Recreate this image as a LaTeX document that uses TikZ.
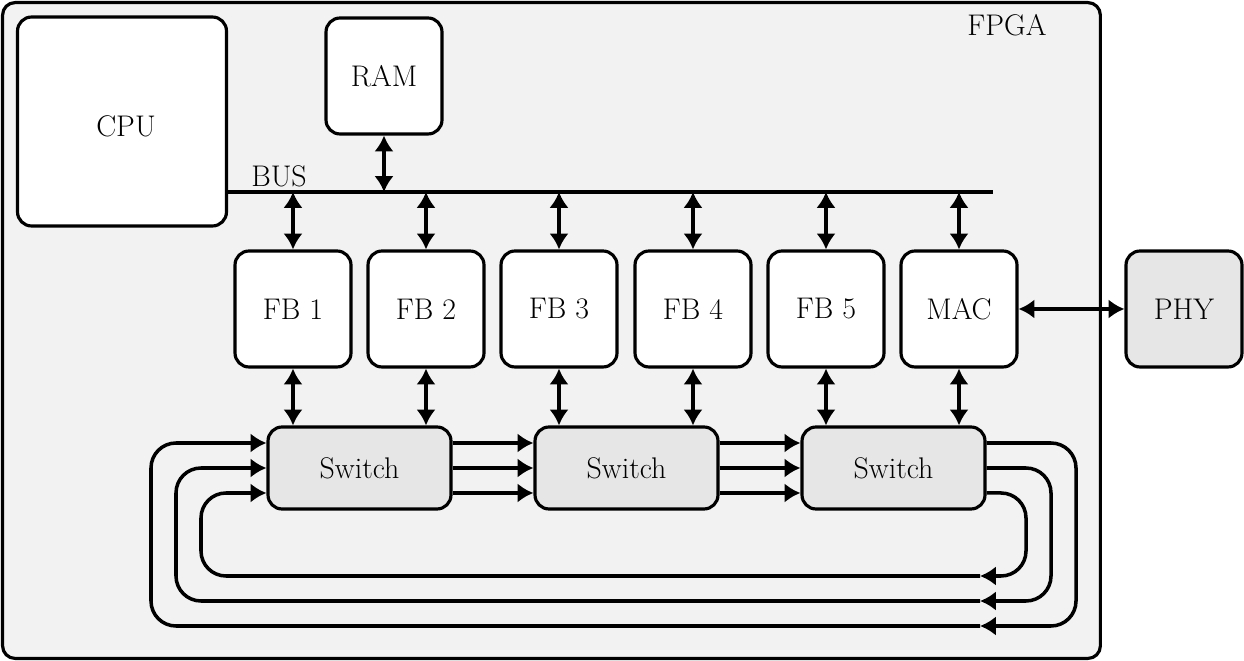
\documentclass[tikz,border=0pt]{standalone}
\usetikzlibrary{arrows.meta}
\definecolor{fpgabg}{HTML}{F2F2F2}
\definecolor{swfill}{HTML}{E6E6E6}
\begin{document}
\begin{tikzpicture}[x=0.02cm,y=-0.02cm,
  font=\fontsize{17pt}{20pt}\selectfont,
  >={Latex[length=9pt,width=11pt]},
  box/.style={draw, line width=1.8pt, rounded corners=0.28cm, fill=white,
    minimum width=2.32cm, minimum height=2.32cm, inner sep=0pt},
  sw/.style={box, fill=swfill, minimum width=3.66cm, minimum height=1.64cm},
  conn/.style={line width=2pt, <->},
  fwd/.style={line width=2pt, ->},
  loopline/.style={line width=2pt, rounded corners=0.5cm}]
\useasboundingbox (0,0) rectangle (1244,661);
% FPGA
\node[draw, line width=1.8pt, rounded corners=0.25cm, fill=fpgabg,
  minimum width=21.96cm, minimum height=13.12cm, anchor=north west, inner sep=0pt] (fpga) at (1,1) {};
\node (fpgalbl) at (1007,25) {FPGA};
% top blocks
\node[box, minimum width=4.18cm, minimum height=4.18cm] (cpu) at (122,121.5) {};
\node (cpulbl) at (126,126) {CPU};
\node[box] (ram) at (384,76) {RAM};
% bus
\coordinate (busR) at (993,192);
\draw[line width=2pt] (cpu.east |- busR) -- (busR);
\node (buslbl) at (279,176) {BUS};
\draw[conn] (ram.south) -- (ram.south |- busR);
% FBs
\node[box] (fb1) at (293,309) {FB 1};
\node[box] (fb2) at (426,309) {FB 2};
\node[box] (fb3) at (559,309) {FB 3};
\node[box] (fb4) at (693,309) {FB 4};
\node[box] (fb5) at (826,309) {FB 5};
\node[box] (mac) at (959,309) {MAC};
\node[box, fill=swfill] (phy) at (1184,309) {PHY};
\foreach \n in {fb1,fb2,fb3,fb4,fb5,mac}
  \draw[conn] (\n.north |- busR) -- (\n.north);
\draw[conn] (mac.east) -- (phy.west);
% switches
\node[sw] (s1) at (359.5,468) {Switch};
\node[sw] (s2) at (626.5,468) {Switch};
\node[sw] (s3) at (893.5,468) {Switch};
\draw[conn] (fb1.south) -- (fb1.south |- s1.north);
\draw[conn] (fb2.south) -- (fb2.south |- s1.north);
\draw[conn] (fb3.south) -- (fb3.south |- s2.north);
\draw[conn] (fb4.south) -- (fb4.south |- s2.north);
\draw[conn] (fb5.south) -- (fb5.south |- s3.north);
\draw[conn] (mac.south) -- (mac.south |- s3.north);
\foreach \sh in {0.5cm,0cm,-0.5cm}{
  \draw[fwd] ([yshift=\sh]s1.east) -- ([yshift=\sh]s2.west);
  \draw[fwd] ([yshift=\sh]s2.east) -- ([yshift=\sh]s3.west);
}
% loops
\coordinate (oa) at (980,626);
\coordinate (ob) at (980,601);
\coordinate (oc) at (980,576);
\draw[loopline, fwd] ([yshift=0.5cm]s3.east) -| (1076,626) -- (oa);
\draw[loopline, fwd] (oa) -| (151,443) -- ([yshift=0.5cm]s1.west);
\draw[loopline, fwd] (s3.east) -| (1051,601) -- (ob);
\draw[loopline, fwd] (ob) -| (176,468) -- (s1.west);
\draw[loopline, fwd] ([yshift=-0.5cm]s3.east) -| (1026,576) -- (oc);
\draw[loopline, fwd] (oc) -| (201,493) -- ([yshift=-0.5cm]s1.west);
\end{tikzpicture}
\end{document}
